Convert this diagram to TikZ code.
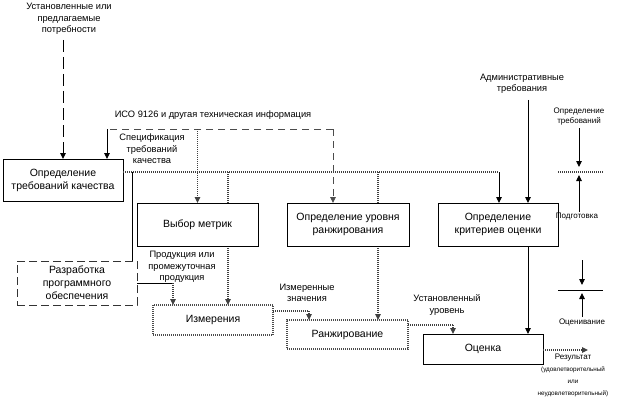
\documentclass[tikz,border=0pt]{standalone}
\usepackage{fontspec}
\setmainfont{Liberation Sans}
\usetikzlibrary{arrows.meta}
\pgfdeclarelayer{bg}
\pgfsetlayers{bg,main}
\begin{document}
\begin{tikzpicture}[x=1pt,y=-1pt,
  box/.style={draw,fill=white,line width=0.9pt,inner sep=0pt,outer sep=0pt,align=center,font=\fontsize{10.5}{13}\selectfont},
  dotbox/.style={box,draw=black!70,dash pattern=on 1pt off 1pt,line width=1.1pt},
  dashbox/.style={box,draw=black!80,dash pattern=on 8pt off 4pt,line width=1pt},
  lbl/.style={align=center,inner sep=0pt,font=\fontsize{9.3}{11.5}\selectfont},
  slbl/.style={align=center,inner sep=0pt,font=\fontsize{8}{12}\selectfont},
  arr/.style={-{Triangle[width=5.5pt,length=6pt]}},
  solidln/.style={line width=0.9pt},
  dotln/.style={draw=black!75,line width=1.1pt,dash pattern=on 1pt off 1pt},
  dashln/.style={draw=black!70,line width=0.9pt,dash pattern=on 7pt off 5pt},
  longdash/.style={line width=1pt,dash pattern=on 12pt off 5pt}
]
\useasboundingbox (0,0) rectangle (636,401);

% boxes
\node[box,minimum width=120pt,minimum height=42pt] (req) at (63,180) {Определение\\требований качества};
\node[box,minimum width=121pt,minimum height=43pt] (metr) at (197.5,224.5) {Выбор метрик};
\node[box,minimum width=122pt,minimum height=43pt] (rlev) at (348,224.5) {Определение уровня\\ранжирования};
\node[box,minimum width=120pt,minimum height=43pt] (crit) at (498,224.5) {Определение\\критериев оценки};
\node[dashbox,minimum width=120pt,minimum height=44pt] (dev) at (77,283) {Разработка\\программного\\обеспечения};
\node[dotbox,minimum width=120pt,minimum height=30pt] (meas) at (213,320) {Измерения};
\node[dotbox,minimum width=121pt,minimum height=29pt] (rank) at (347.5,334.5) {Ранжирование};
\node[box,minimum width=120pt,minimum height=30pt] (eval) at (483,349) {Оценка};

% labels
\node[lbl] (needs) at (69,19) {Установленные или\\предлагаемые\\потребности};
\node[lbl] (iso) at (213,115) {ИСО 9126 и другая техническая информация};
\node[lbl] (spec) at (152,149) {Спецификация\\требований\\качества};
\node[lbl] (prod) at (182,267) {Продукция или\\промежуточная\\продукция};
\node[lbl] (measv) at (307,293) {Измеренные\\значения};
\node[lbl] (lvl) at (447,305) {Установленный\\уровень};
\node[lbl] (admin) at (522,84) {Административные\\требования};
\node[slbl,font=\fontsize{6.3}{12}\selectfont] (res) at (573,375) {{\fontsize{8}{12}\selectfont Результат}\\(удовлетворительный\\или\\неудовлетворительный)};
\node[slbl,font=\fontsize{8}{10}\selectfont] (lgreq) at (579,117) {Определение\\требований};
\node[slbl] (lgprep) at (577,217) {Подготовка};
\node[slbl] (lgeval) at (582,322) {Оценивание};

% coordinates
\coordinate (isoL) at (107,129);
\coordinate (isoR) at (333,129);
\coordinate (isoM) at (197.5,129);
\coordinate (specL) at (123,172);
\coordinate (specR) at (499,172);
\coordinate (specA) at (228,172);
\coordinate (specB) at (378,172);
\coordinate (specC) at (132,172);
\coordinate (needsT) at (63,40);
\coordinate (adminT) at (528,100);
\coordinate (resE) at (588,350);

% needs
\draw[longdash,arr] (needsT) -- (req.north);

% ISO
\draw[dashln] (isoR) -- (isoL);
\draw[solidln,arr] (isoL) -- (isoL |- req.north);
\draw[dashln,arr] (isoR) -- (isoR |- rlev.north);
\draw[dotln,arr] (isoM) -- (metr.north);

% specification line
\draw[dotln] (specL) -- (specR);
\draw[solidln,arr] (specR) -- (specR |- crit.north);
\begin{pgfonlayer}{bg}
\draw[dotln,arr] (specA) -- (specA |- meas.north);
\draw[dotln,arr] (specB) -- (specB |- rank.north);
\end{pgfonlayer}
\draw[solidln] (specC) -- (specC |- dev.north);

% development -> measurement
\coordinate (devK) at (173,283);
\draw[solidln] (dev.east) -- (devK);
\draw[dotln,arr] (devK) -- (devK |- meas.north);

% measurement -> ranking
\coordinate (measK) at (309,311);
\draw[dotln] ([yshift=9pt]meas.east) -- (measK);
\draw[dotln,arr] (measK) -- (measK |- rank.north);

% ranking -> evaluation
\coordinate (rankK) at (453,325);
\draw[dotln] ([yshift=9.5pt]rank.east) -- (rankK);
\draw[dotln,arr] (rankK) -- (rankK |- eval.north);

% criteria -> evaluation
\draw[solidln,arr] (adminT |- crit.south) -- (adminT |- eval.north);
% administrative
\draw[solidln,arr] (adminT) -- (adminT |- crit.north);

% result
\draw[dotln,arr] ([yshift=-1pt]eval.east) -- (resE);

% legend
\coordinate (lgA) at (579,128);
\coordinate (lgB) at (579,167);
\coordinate (lgC) at (579,212);
\coordinate (lgD) at (579,175);
\coordinate (lgL1) at (558,172);
\coordinate (lgR1) at (603,172);
\draw[solidln,arr] (lgA) -- (lgB);
\draw[dotln] (lgL1) -- (lgR1);
\draw[solidln,arr] (lgC) -- (lgD);
\coordinate (lgE) at (582,260);
\coordinate (lgF) at (582,285);
\coordinate (lgG) at (582,317);
\coordinate (lgH) at (582,293);
\coordinate (lgL2) at (558,290);
\coordinate (lgR2) at (603,290);
\draw[solidln,arr] (lgE) -- (lgF);
\draw[solidln] (lgL2) -- (lgR2);
\draw[solidln,arr] (lgG) -- (lgH);
\end{tikzpicture}
\end{document}
